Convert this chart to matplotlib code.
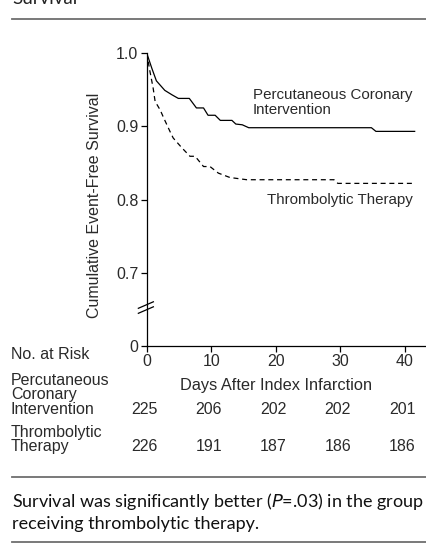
import matplotlib.pyplot as plt
from matplotlib.transforms import blended_transform_factory

W, H = 427, 543

# Kaplan-Meier style curves
pci_days = [0, 0.8, 1.5, 2.8, 3.9, 4.9, 6.6, 7.7, 8.8, 9.5, 10.6, 11.4, 13.2,
            13.8, 14.8, 15.8, 34.8, 35.5, 41.5]
pci_surv = [1.0, 0.979, 0.962, 0.949, 0.943, 0.938, 0.938, 0.925, 0.925, 0.915,
            0.915, 0.908, 0.908, 0.903, 0.902, 0.898, 0.898, 0.893, 0.893]
tt_days = [0, 0.5, 1.0, 1.3, 2.1, 2.6, 3.6, 4.1, 5.4, 6.7, 7.5, 8.8, 9.8,
           11.1, 12.9, 15.5, 29.0, 29.6, 41.5]
tt_surv = [1.0, 0.975, 0.952, 0.934, 0.922, 0.912, 0.893, 0.884, 0.871, 0.859,
           0.859, 0.845, 0.845, 0.836, 0.830, 0.827, 0.827, 0.822, 0.822]

risk_days = [0, 10, 20, 30, 40]
risk_pci = [225, 206, 202, 202, 201]
risk_tt = [226, 191, 187, 186, 186]

xticks = [0, 10, 20, 30, 40]
yticks = [0.6, 0.7, 0.8, 0.9, 1.0]
ytick_labels = ['0', '0.7', '0.8', '0.9', '1.0']

TXT = '#2a2a2a'
FS = 11.5
plt.rcParams['font.family'] = ['Liberation Sans', 'DejaVu Sans']


def fx(px):
    return px / W


def fy(py):
    return 1 - py / H


fig = plt.figure(figsize=(W / 100, H / 100), dpi=100)
ax = fig.add_axes([fx(146.7), fy(346), fx(425) - fx(146.7), fy(53) - fy(346)])

ax.plot(pci_days, pci_surv, color='black', linewidth=0.9)
ax.plot(tt_days, tt_surv, color='black', linewidth=0.9, linestyle=(0, (4, 3)))

ax.set_xlim(0, 43.1)
ax.set_ylim(0.6, 1.0)
ax.set_xticks(xticks)
ax.set_yticks(yticks)
ax.set_yticklabels(ytick_labels)
for s in ['top', 'right']:
    ax.spines[s].set_visible(False)
for s in ['left', 'bottom']:
    ax.spines[s].set_linewidth(0.9)
ax.tick_params(direction='out', length=4, width=0.9, labelsize=FS,
               labelcolor=TXT, pad=2)

# axis break marks
for y0 in [0.1116, 0.1287]:
    ax.plot([-0.030, 0.024], [y0, y0 + 0.0222], transform=ax.transAxes,
            color='black', linewidth=0.9, clip_on=False)

# curve labels
fig.text(fx(253), fy(99.5), 'Percutaneous Coronary', fontsize=10.9, color=TXT,
         va='baseline')
fig.text(fx(253), fy(114.5), 'Intervention', fontsize=10.9, color=TXT,
         va='baseline')
fig.text(fx(413), fy(204), 'Thrombolytic Therapy', fontsize=10.9, color=TXT,
         va='baseline', ha='right')

fig.text(fx(95), fy(205), 'Cumulative Event-Free Survival', rotation=90,
         fontsize=FS, color=TXT, ha='center', va='center')
fig.text(fx(276.5), fy(390), 'Days After Index Infarction', fontsize=11.8,
         color=TXT, ha='center', va='baseline')

# number at risk
row_labels = [('No. at Risk', 359.3), ('Percutaneous', 385), ('Coronary', 399.5),
              ('Intervention', 414), ('Thrombolytic', 436.7), ('Therapy', 451)]
for lab, py in row_labels:
    fig.text(fx(11), fy(py), lab, fontsize=FS, color=TXT, va='baseline')
tr = blended_transform_factory(ax.transData, fig.transFigure)
for d, a, b in zip(risk_days, risk_pci, risk_tt):
    ax.text(d - 0.4, fy(414), str(a), transform=tr, fontsize=FS, color=TXT,
            ha='center', va='baseline')
    ax.text(d - 0.4, fy(451), str(b), transform=tr, fontsize=FS, color=TXT,
            ha='center', va='baseline')

# caption area and rules
for py in [19, 476.7, 541.7]:
    fig.add_artist(plt.Line2D([fx(12), 1.0], [fy(py), fy(py)],
                              color='#6e6e6e', linewidth=1.3))
fig.text(fx(12), fy(3.5), 'Survival', fontsize=13.5, color='#222222',
         family=['Lato', 'DejaVu Sans'], va='baseline')
fig.text(fx(12), fy(506.5), 'Survival was significantly better ($\\it{P}$=.03) in the group',
         fontsize=13, color='#111111', family=['Lato', 'DejaVu Sans'], va='baseline')
fig.text(fx(12), fy(529.5), 'receiving thrombolytic therapy.', fontsize=13,
         color='#111111', family=['Lato', 'DejaVu Sans'], va='baseline')

fig.savefig('out.png', dpi=100)
